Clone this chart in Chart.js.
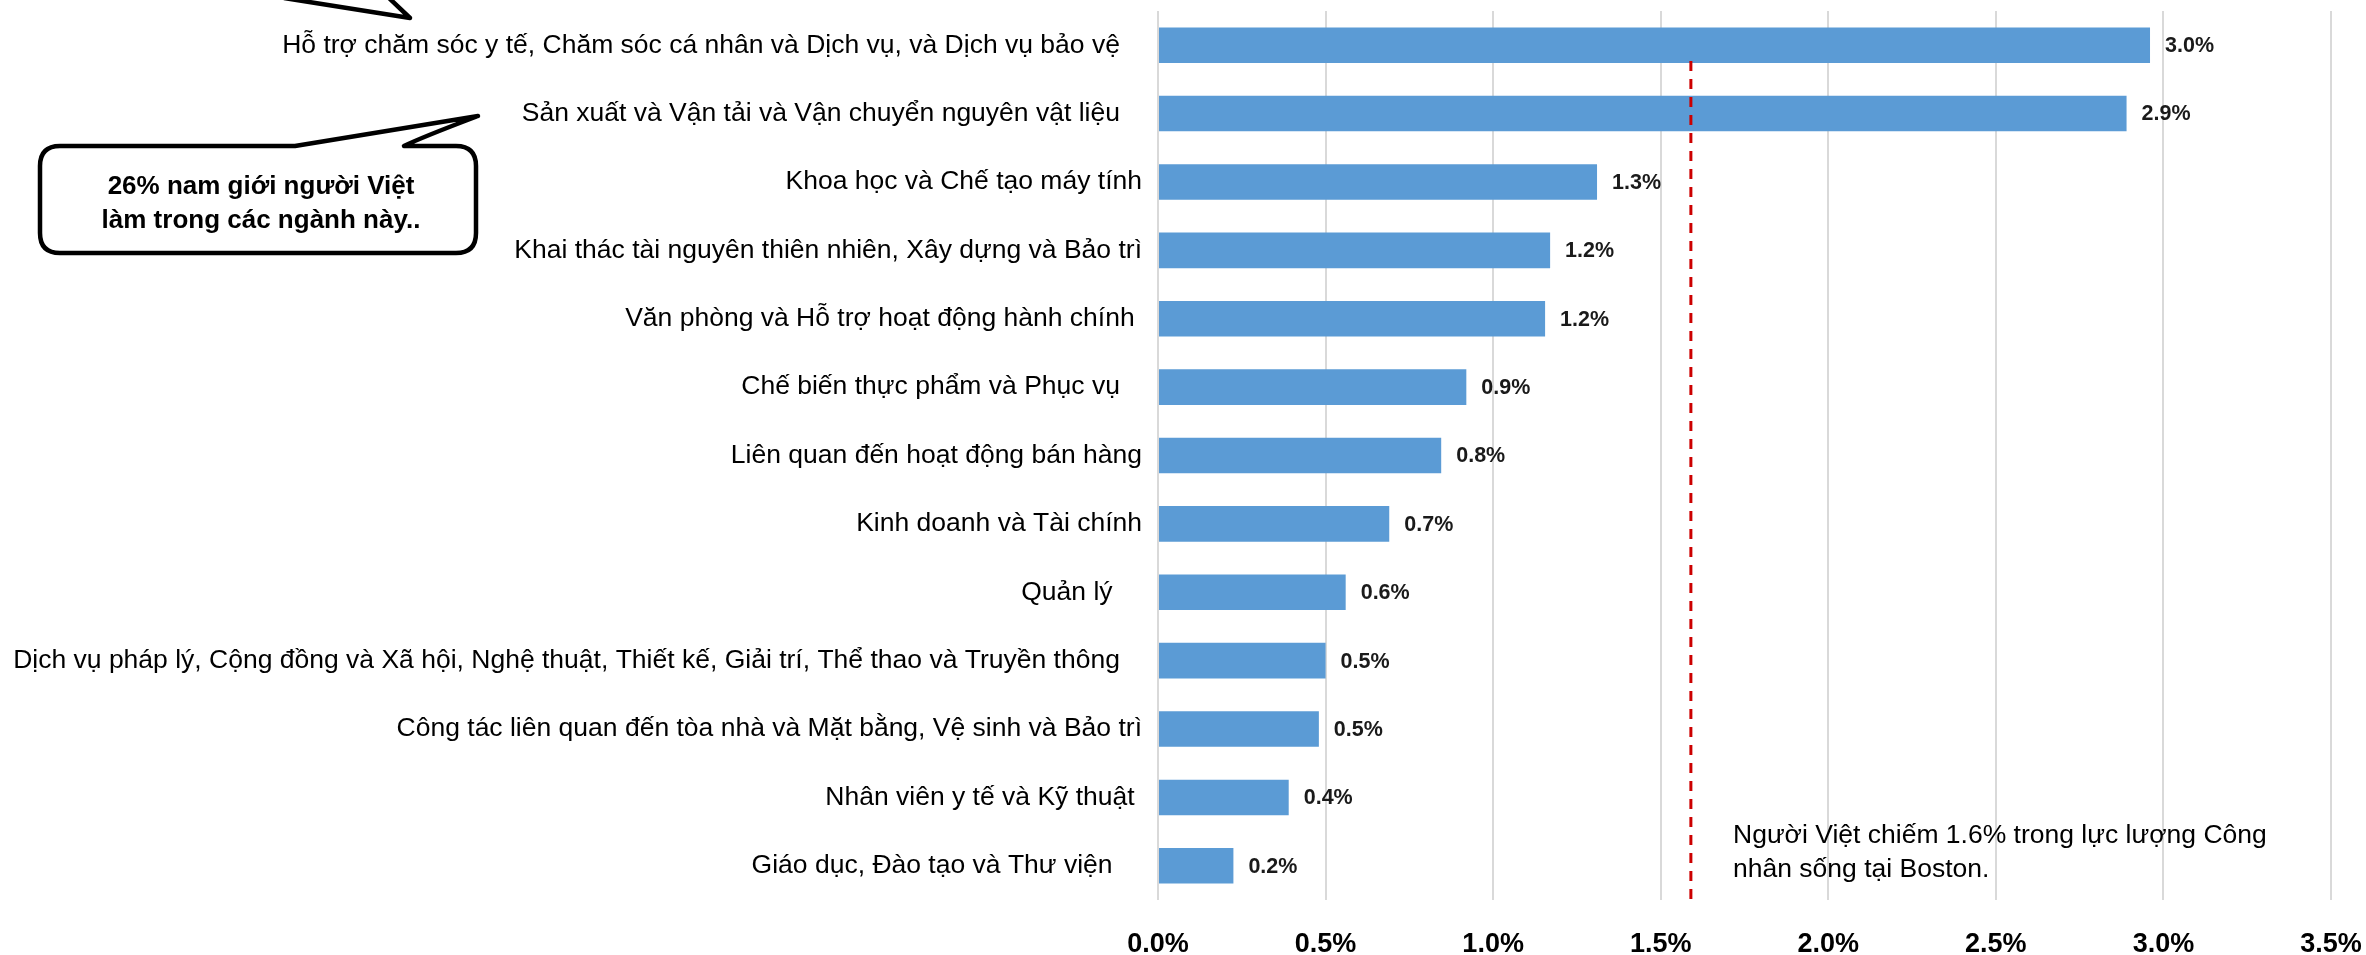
<!DOCTYPE html>
<html>
<head>
<meta charset="utf-8">
<script src="https://cdn.jsdelivr.net/npm/chart.js@4.4.1/dist/chart.umd.min.js"></script>
<style>
  html, body { margin: 0; padding: 0; background: #fff; }
</style>
</head>
<body>
<canvas id="chart" width="2366" height="955"></canvas>
<script>
// categories (some labels keep trailing spaces, as in the source sheet)
const categories = [
  'Hỗ trợ chăm sóc y tế, Chăm sóc cá nhân và Dịch vụ, và Dịch vụ bảo vệ   ',
  'Sản xuất và Vận tải và Vận chuyển nguyên vật liệu   ',
  'Khoa học và Chế tạo máy tính',
  'Khai thác tài nguyên thiên nhiên, Xây dựng và Bảo trì',
  'Văn phòng và Hỗ trợ hoạt động hành chính ',
  'Chế biến thực phẩm và Phục vụ   ',
  'Liên quan đến hoạt động bán hàng',
  'Kinh doanh và Tài chính',
  'Quản lý    ',
  'Dịch vụ pháp lý, Cộng đồng và Xã hội, Nghệ thuật, Thiết kế, Giải trí, Thể thao và Truyền thông   ',
  'Công tác liên quan đến tòa nhà và Mặt bằng, Vệ sinh và Bảo trì',
  'Nhân viên y tế và Kỹ thuật ',
  'Giáo dục, Đào tạo và Thư viện    '
];

// share of Vietnamese workers (%)
const shares = [2.96, 2.89, 1.31, 1.17, 1.155, 0.92, 0.845, 0.69, 0.56, 0.50, 0.48, 0.39, 0.225];

// x axis
const xMin = 0;
const xMax = 3.5;
const xStep = 0.5;

// average line
const benchmark = 1.59;
const benchmarkNote = ['Người Việt chiếm 1.6% trong lực lượng Công', 'nhân sống tại Boston.'];
const bubbleText = ['26% nam giới người Việt', 'làm trong các ngành này..'];

const fmt = v => (Math.round(v * 10) / 10).toFixed(1) + '%';

// narrow bold face for the numbers if it is installed
const probe = document.createElement('canvas').getContext('2d');
function hasFont(name) {
  probe.font = '40px monospace';
  const a = probe.measureText('0.5% Việt').width;
  probe.font = '40px "' + name + '", monospace';
  return probe.measureText('0.5% Việt').width !== a;
}
// font size that makes text as wide as in the picture
function sizeFor(family, text, width) {
  probe.font = 'bold 100px ' + family;
  return Math.round(100 * width / probe.measureText(text).width * 2) / 2;
}
const numFamily = hasFont('Liberation Sans Narrow')
  ? '"Liberation Sans Narrow", "Liberation Sans", sans-serif'
  : '"Liberation Sans", Arial, sans-serif';
const tickSize = sizeFor(numFamily, '0.5%', 61);
const valueSize = sizeFor(numFamily, '3.0%', 49);
const textFamily = '"Liberation Sans", Arial, sans-serif';

const extras = {
  id: 'extras',
  afterDatasetsDraw(chart) {
    const { ctx, chartArea } = chart;
    const x = chart.scales.x;
    const meta = chart.getDatasetMeta(0);

    // value labels
    ctx.save();
    ctx.font = 'bold ' + valueSize + 'px ' + numFamily;
    ctx.fillStyle = '#1a1a1a';
    ctx.textBaseline = 'middle';
    ctx.textAlign = 'left';
    meta.data.forEach((bar, i) => {
      ctx.fillText(fmt(shares[i]), bar.x + 15, bar.y + 1);
    });
    ctx.restore();

    // red dashed average line
    const bx = x.getPixelForValue(benchmark);
    ctx.save();
    ctx.strokeStyle = '#cc0000';
    ctx.lineWidth = 3;
    ctx.setLineDash([10, 8]);
    ctx.beginPath();
    ctx.moveTo(bx, 61);
    ctx.lineTo(bx, chartArea.bottom);
    ctx.stroke();
    ctx.restore();

    // note next to the line
    ctx.save();
    ctx.font = '26.5px ' + textFamily;
    ctx.fillStyle = '#000';
    ctx.textBaseline = 'middle';
    ctx.fillText(benchmarkNote[0], 1733, 836);
    ctx.fillText(benchmarkNote[1], 1733, 870);
    ctx.restore();

    // speech bubble
    ctx.save();
    ctx.strokeStyle = '#000';
    ctx.lineWidth = 4.5;
    ctx.lineJoin = 'round';
    const l = 40, r = 476, t = 146, b = 253, rad = 20;
    ctx.beginPath();
    ctx.moveTo(l + rad, t);
    ctx.lineTo(295, t);
    ctx.lineTo(478, 116);
    ctx.quadraticCurveTo(420, 138, 404, t);
    ctx.lineTo(r - rad, t);
    ctx.quadraticCurveTo(r, t, r, t + rad);
    ctx.lineTo(r, b - rad);
    ctx.quadraticCurveTo(r, b, r - rad, b);
    ctx.lineTo(l + rad, b);
    ctx.quadraticCurveTo(l, b, l, b - rad);
    ctx.lineTo(l, t + rad);
    ctx.quadraticCurveTo(l, t, l + rad, t);
    ctx.closePath();
    ctx.fillStyle = '#fff';
    ctx.fill();
    ctx.stroke();

    // tail of a bubble above the picture
    ctx.beginPath();
    ctx.moveTo(284, -2);
    ctx.lineTo(410, 18);
    ctx.lineTo(389, -2);
    ctx.stroke();

    ctx.font = 'bold 26px ' + textFamily;
    ctx.fillStyle = '#000';
    ctx.textAlign = 'center';
    ctx.textBaseline = 'middle';
    ctx.fillText(bubbleText[0], 261, 187);
    ctx.fillText(bubbleText[1], 261, 221);
    ctx.restore();
  }
};

new Chart(document.getElementById('chart'), {
  type: 'bar',
  data: {
    labels: categories,
    datasets: [{
      data: shares,
      backgroundColor: '#5b9bd5',
      borderWidth: 0,
      barPercentage: 0.52,
      categoryPercentage: 1
    }]
  },
  options: {
    indexAxis: 'y',
    responsive: false,
    animation: false,
    layout: { padding: { top: 11, right: 35, bottom: 0, left: 0 } },
    plugins: {
      legend: { display: false },
      tooltip: { enabled: false }
    },
    scales: {
      x: {
        min: xMin,
        max: xMax,
        grid: { color: '#d9d9d9', lineWidth: 2, drawTicks: false },
        border: { display: false },
        ticks: {
          stepSize: xStep,
          padding: 28,
          color: '#000',
          font: { family: numFamily, size: tickSize, weight: 'bold' },
          callback: v => v.toFixed(1) + '%'
        },
        afterFit(scale) {
          scale.height = 55;
          scale.paddingLeft = 0;
          scale.paddingRight = 0;
        }
      },
      y: {
        grid: { display: false, drawTicks: false },
        border: { display: false },
        ticks: {
          padding: 16,
          color: '#000',
          autoSkip: false,
          font: { family: textFamily, size: 26.5 }
        },
        afterFit(scale) {
          scale.width = 1158;
          scale.paddingTop = 0;
          scale.paddingBottom = 0;
        }
      }
    }
  },
  plugins: [extras]
});
</script>
</body>
</html>
